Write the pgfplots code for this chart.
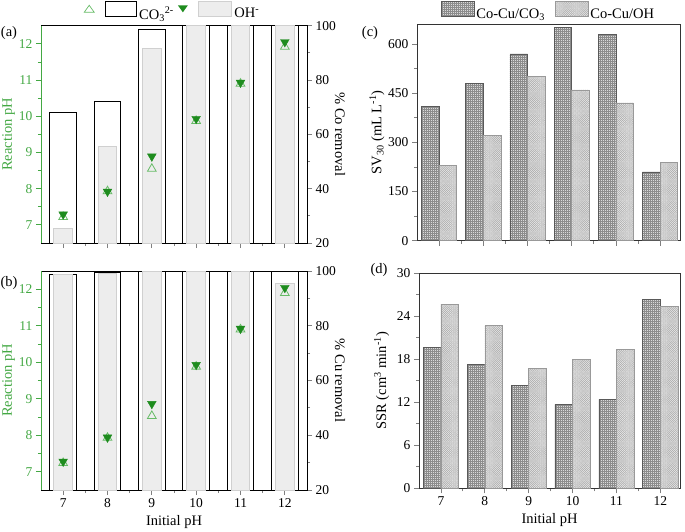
\documentclass[border=0pt]{standalone}
\usepackage{fontspec}
\setmainfont{Liberation Serif}
\usepackage{amsmath}
\usepackage{pgfplots}
\usepackage{pgfplotstable}
\pgfplotsset{compat=1.18}
\usetikzlibrary{patterns,patterns.meta}

\definecolor{axgreen}{HTML}{43A843}
\definecolor{dgreen}{HTML}{1E8C1E}
\definecolor{lgreen}{HTML}{66BB66}
\definecolor{barfill}{HTML}{EDEDED}
\definecolor{barline}{HTML}{D0D0D0}

\tikzset{
  co3bar/.style={preaction={fill=black!15}, pattern={Hatch[angle=0,distance=2pt,line width=0.3pt]}, pattern color=black!45, draw=black!65, line width=0.6pt},
  ohbar/.style={preaction={fill=black!9}, pattern={Hatch[angle=45,distance=1.5pt,line width=0.3pt]}, pattern color=black!30, draw=black!40, line width=0.6pt},
}

\pgfplotstableread{
pH co3 oh
7 68.0 25.2
8 72.2 55.5
9 98.5 91.5
10 100 100
11 100 100
12 100 100
}\coA
\pgfplotstableread{
pH co3 oh
7 98.8 98.6
8 99.3 99.1
9 100 100
10 100 100
11 100 100
12 100 95.5
}\cuB
\pgfplotstableread{
pH op fi
7 7.22 7.29
8 7.93 7.92
9 8.55 8.89
10 9.87 9.93
11 10.90 10.93
12 11.92 12.05
}\phA
\pgfplotstableread{
pH op fi
7 7.24 7.28
8 7.93 7.94
9 8.53 8.86
10 9.88 9.93
11 10.90 10.92
12 11.90 12.04
}\phB
\pgfplotstableread{
pH co3 oh
7 410 230
8 480 320
9 570 500
10 650 460
11 630 420
12 210 240
}\svC
\pgfplotstableread{
pH co3 oh
7 19.7 25.7
8 17.3 22.7
9 14.4 16.7
10 11.7 18.0
11 12.4 19.35
12 26.4 25.4
}\ssrD

\pgfplotsset{
  common/.style={scale only axis, anchor=south west, xtick={7,8,9,10,11,12}, minor x tick num=1,
    tick align=outside, major tick length=5pt, minor tick length=3pt,
    /pgf/number format/assume math mode=true,
    every tick label/.append style={font=\fontsize{13.5}{14}\selectfont},
    label style={font=\fontsize{14.5}{16}\selectfont},
    axis line style={line width=0.9pt}, every tick/.append style={line width=0.8pt}},
  barax/.style={common, width=266pt, xmin=6.5, xmax=12.5, ymin=20, ymax=100, ytick={20,40,60,80,100}, minor y tick num=1,
    xtick pos=left, ytick pos=right, ybar, bar shift=0pt,
    ylabel style={at={(axis description cs:1.124,0.5)}, anchor=center, rotate=180}},
  phax/.style={common, width=266pt, xmin=6.5, xmax=12.5, ymin=6.5, ymax=12.5, ytick={7,8,9,10,11,12}, minor y tick num=1,
    axis y line*=left, axis x line=none, y axis line style={draw=axgreen},
    every tick/.append style={axgreen}, every tick label/.append style={text=axgreen},
    ylabel={Reaction pH}, ylabel style={text=axgreen, at={(axis description cs:-0.122,0.5)}, anchor=center}},
  rax/.style={common, xmin=6.5, xmax=12.45, tick pos=left, ybar, bar width=0.4, minor y tick num=1,
    axis line style={draw=black!80}},
  whitebar/.style={draw=black, fill=white, line width=1pt, bar width=0.6, bar shift=0pt},
  graybar/.style={draw=barline, fill=barfill, line width=0.9pt, bar width=0.42, bar shift=0pt},
}

\begin{document}
\begin{tikzpicture}
\path[use as bounding box] (0,0) rectangle (685pt,531pt);

% ---------- (a) ----------
\begin{axis}[barax, at={(41pt,288pt)}, height=217.3pt, xticklabels={}, ylabel={\% Co removal},
  legend columns=2,
  legend style={at={(0.5,1)}, anchor=south, yshift=3pt, xshift=-1.5pt, draw=none, fill=none, inner sep=0pt,
    font=\fontsize{14.5}{16}\selectfont, /tikz/every even column/.append style={column sep=2pt}}]
\addplot[whitebar, legend image code/.code={
   \draw[draw=lgreen, fill=none, line width=0.7pt] (0.5pt,1.5pt) -- (10.5pt,1.5pt) -- (5.5pt,8.5pt) -- cycle;
   \draw[draw=black, line width=1pt, fill=white] (22pt,-2.5pt) rectangle (53pt,12.5pt);}]
  table[x=pH,y=co3] \coA;
\addlegendentry{CO$_{\text{3}}{}^{\text{2-}}$}
\addplot[graybar, legend image code/.code={
   \path[fill=dgreen, draw=none] (0pt,8.5pt) -- (10pt,8.5pt) -- (5pt,1.5pt) -- cycle;
   \draw[draw=barline, line width=0.9pt, fill=barfill] (21pt,-2.5pt) rectangle (54pt,12.5pt);}]
  table[x=pH,y=oh] \coA;
\addlegendentry{OH$^{\text{-}}$}
\end{axis}
\begin{axis}[phax, at={(41pt,288pt)}, height=217.3pt]
\addplot[only marks, mark=triangle, mark size=5pt, color=lgreen, mark options={line width=0.8pt}] table[x=pH,y=op] \phA;
\addplot[only marks, mark=triangle*, mark size=5pt, color=dgreen, mark options={rotate=180}] table[x=pH,y=fi] \phA;
\end{axis}

% ---------- (b) ----------
\begin{axis}[barax, at={(41pt,41pt)}, height=219pt, ylabel={\% Cu removal},
  xlabel={Initial pH}, xlabel style={at={(axis description cs:0.5,0)}, yshift=-31.7pt, anchor=center}]
\addplot[whitebar] table[x=pH,y=co3] \cuB;
\addplot[graybar] table[x=pH,y=oh] \cuB;
\end{axis}
\begin{axis}[phax, at={(41pt,41pt)}, height=219pt]
\addplot[only marks, mark=triangle, mark size=5pt, color=lgreen, mark options={line width=0.8pt}] table[x=pH,y=op] \phB;
\addplot[only marks, mark=triangle*, mark size=5pt, color=dgreen, mark options={rotate=180}] table[x=pH,y=fi] \phB;
\end{axis}

% ---------- (c) ----------
\begin{axis}[rax, at={(417pt,290.3pt)}, width=263pt, height=216.4pt, ymin=0, ymax=660,
  ytick={0,150,300,450,600}, xticklabels={},
  ylabel={SV$_{\text{30}}$ (mL L$^{\text{-1}}$)}, ylabel style={at={(axis description cs:-0.152,0.5)}, anchor=center},
  legend columns=2,
  legend style={at={(0.5,1)}, anchor=south, yshift=2.3pt, draw=none, fill=none, inner sep=0pt,
    font=\fontsize{14.5}{16}\selectfont, /tikz/every even column/.append style={column sep=8pt}}]
\addplot[co3bar, bar shift=-0.2, legend image code/.code={\draw[co3bar] (0pt,-2.5pt) rectangle (33pt,12.5pt);}]
  table[x=pH,y=co3] \svC;
\addlegendentry{Co-Cu/CO$_{\text{3}}$}
\addplot[ohbar, bar shift=0.2, legend image code/.code={\draw[ohbar] (0pt,-2.5pt) rectangle (33pt,12.5pt);}]
  table[x=pH,y=oh] \svC;
\addlegendentry{Co-Cu/OH}
\end{axis}

% ---------- (d) ----------
\begin{axis}[rax, at={(419pt,42.7pt)}, width=261pt, height=215pt, ymin=0, ymax=30,
  ytick={0,6,12,18,24,30},
  ylabel={SSR (cm$^{\text{3}}$ min$^{\text{-1}}$)}, ylabel style={at={(axis description cs:-0.143,0.5)}, anchor=center},
  xlabel={Initial pH}, xlabel style={at={(axis description cs:0.5,0)}, yshift=-31.7pt, anchor=center}]
\addplot[co3bar, bar shift=-0.2] table[x=pH,y=co3] \ssrD;
\addplot[ohbar, bar shift=0.2] table[x=pH,y=oh] \ssrD;
\end{axis}

% panel labels
\node[font=\fontsize{14.5}{16}\selectfont] at (9pt,498pt) {(a)};
\node[font=\fontsize{14.5}{16}\selectfont] at (9pt,248pt) {(b)};
\node[font=\fontsize{14.5}{16}\selectfont] at (370pt,498pt) {(c)};
\node[font=\fontsize{14.5}{16}\selectfont] at (379pt,261pt) {(d)};
\end{tikzpicture}
\end{document}
